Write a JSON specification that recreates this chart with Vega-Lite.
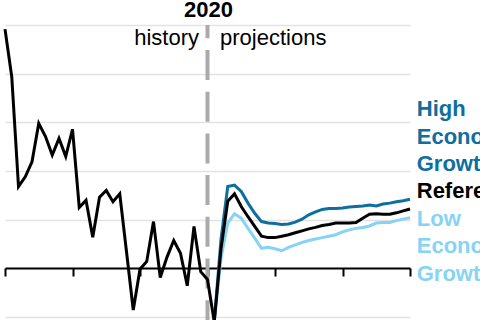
{
  "$schema": "https://vega.github.io/schema/vega-lite/v6.json",
  "autosize": {"type": "none"},
  "width": 405,
  "height": 295,
  "padding": {"left": 5, "top": 25, "right": 70, "bottom": 0},
  "background": "white",
  "view": {"stroke": null},
  "config": {"font": "Liberation Sans"},
  "datasets": {
    "lines": [
      {"year": 1990, "series": "History", "value": 4.92},
      {"year": 1991, "series": "History", "value": 3.94},
      {"year": 1992, "series": "History", "value": 1.68},
      {"year": 1993, "series": "History", "value": 1.88},
      {"year": 1994, "series": "History", "value": 2.19},
      {"year": 1995, "series": "History", "value": 2.98},
      {"year": 1996, "series": "History", "value": 2.71},
      {"year": 1997, "series": "History", "value": 2.33},
      {"year": 1998, "series": "History", "value": 2.67},
      {"year": 1999, "series": "History", "value": 2.30},
      {"year": 2000, "series": "History", "value": 2.86},
      {"year": 2001, "series": "History", "value": 1.25},
      {"year": 2002, "series": "History", "value": 1.40},
      {"year": 2003, "series": "History", "value": 0.64},
      {"year": 2004, "series": "History", "value": 1.46},
      {"year": 2005, "series": "History", "value": 1.60},
      {"year": 2006, "series": "History", "value": 1.37},
      {"year": 2007, "series": "History", "value": 1.53},
      {"year": 2008, "series": "History", "value": 0.34},
      {"year": 2009, "series": "History", "value": -0.86},
      {"year": 2010, "series": "History", "value": -0.02},
      {"year": 2011, "series": "History", "value": 0.14},
      {"year": 2012, "series": "History", "value": 0.96},
      {"year": 2013, "series": "History", "value": -0.19},
      {"year": 2014, "series": "History", "value": 0.23},
      {"year": 2015, "series": "History", "value": 0.57},
      {"year": 2016, "series": "History", "value": 0.31},
      {"year": 2017, "series": "History", "value": -0.36},
      {"year": 2018, "series": "History", "value": 0.86},
      {"year": 2019, "series": "History", "value": -0.07},
      {"year": 2020, "series": "History", "value": -0.23},
      {"year": 2021, "series": "History", "value": -1.1},

      {"year": 2021, "series": "Reference", "value": -1.1},
      {"year": 2022, "series": "Reference", "value": 0.40},
      {"year": 2023, "series": "Reference", "value": 1.38},
      {"year": 2024, "series": "Reference", "value": 1.53},
      {"year": 2025, "series": "Reference", "value": 1.27},
      {"year": 2026, "series": "Reference", "value": 1.06},
      {"year": 2027, "series": "Reference", "value": 0.86},
      {"year": 2028, "series": "Reference", "value": 0.66},
      {"year": 2029, "series": "Reference", "value": 0.63},
      {"year": 2030, "series": "Reference", "value": 0.63},
      {"year": 2031, "series": "Reference", "value": 0.66},
      {"year": 2032, "series": "Reference", "value": 0.69},
      {"year": 2033, "series": "Reference", "value": 0.73},
      {"year": 2034, "series": "Reference", "value": 0.77},
      {"year": 2035, "series": "Reference", "value": 0.81},
      {"year": 2036, "series": "Reference", "value": 0.84},
      {"year": 2037, "series": "Reference", "value": 0.88},
      {"year": 2038, "series": "Reference", "value": 0.90},
      {"year": 2039, "series": "Reference", "value": 0.93},
      {"year": 2040, "series": "Reference", "value": 0.93},
      {"year": 2041, "series": "Reference", "value": 0.93},
      {"year": 2042, "series": "Reference", "value": 0.94},
      {"year": 2043, "series": "Reference", "value": 1.03},
      {"year": 2044, "series": "Reference", "value": 1.11},
      {"year": 2045, "series": "Reference", "value": 1.12},
      {"year": 2046, "series": "Reference", "value": 1.11},
      {"year": 2047, "series": "Reference", "value": 1.11},
      {"year": 2048, "series": "Reference", "value": 1.14},
      {"year": 2049, "series": "Reference", "value": 1.18},
      {"year": 2050, "series": "Reference", "value": 1.22},

      {"year": 2021, "series": "High Economic Growth", "value": -1.1},
      {"year": 2022, "series": "High Economic Growth", "value": 0.60},
      {"year": 2023, "series": "High Economic Growth", "value": 1.68},
      {"year": 2024, "series": "High Economic Growth", "value": 1.71},
      {"year": 2025, "series": "High Economic Growth", "value": 1.58},
      {"year": 2026, "series": "High Economic Growth", "value": 1.34},
      {"year": 2027, "series": "High Economic Growth", "value": 1.13},
      {"year": 2028, "series": "High Economic Growth", "value": 0.96},
      {"year": 2029, "series": "High Economic Growth", "value": 0.93},
      {"year": 2030, "series": "High Economic Growth", "value": 0.92},
      {"year": 2031, "series": "High Economic Growth", "value": 0.90},
      {"year": 2032, "series": "High Economic Growth", "value": 0.91},
      {"year": 2033, "series": "High Economic Growth", "value": 0.95},
      {"year": 2034, "series": "High Economic Growth", "value": 1.01},
      {"year": 2035, "series": "High Economic Growth", "value": 1.10},
      {"year": 2036, "series": "High Economic Growth", "value": 1.16},
      {"year": 2037, "series": "High Economic Growth", "value": 1.21},
      {"year": 2038, "series": "High Economic Growth", "value": 1.23},
      {"year": 2039, "series": "High Economic Growth", "value": 1.23},
      {"year": 2040, "series": "High Economic Growth", "value": 1.24},
      {"year": 2041, "series": "High Economic Growth", "value": 1.26},
      {"year": 2042, "series": "High Economic Growth", "value": 1.27},
      {"year": 2043, "series": "High Economic Growth", "value": 1.28},
      {"year": 2044, "series": "High Economic Growth", "value": 1.30},
      {"year": 2045, "series": "High Economic Growth", "value": 1.28},
      {"year": 2046, "series": "High Economic Growth", "value": 1.32},
      {"year": 2047, "series": "High Economic Growth", "value": 1.34},
      {"year": 2048, "series": "High Economic Growth", "value": 1.37},
      {"year": 2049, "series": "High Economic Growth", "value": 1.39},
      {"year": 2050, "series": "High Economic Growth", "value": 1.42},

      {"year": 2021, "series": "Low Economic Growth", "value": -1.1},
      {"year": 2022, "series": "Low Economic Growth", "value": 0.20},
      {"year": 2023, "series": "Low Economic Growth", "value": 0.93},
      {"year": 2024, "series": "Low Economic Growth", "value": 1.12},
      {"year": 2025, "series": "Low Economic Growth", "value": 1.03},
      {"year": 2026, "series": "Low Economic Growth", "value": 0.82},
      {"year": 2027, "series": "Low Economic Growth", "value": 0.62},
      {"year": 2028, "series": "Low Economic Growth", "value": 0.41},
      {"year": 2029, "series": "Low Economic Growth", "value": 0.43},
      {"year": 2030, "series": "Low Economic Growth", "value": 0.40},
      {"year": 2031, "series": "Low Economic Growth", "value": 0.36},
      {"year": 2032, "series": "Low Economic Growth", "value": 0.43},
      {"year": 2033, "series": "Low Economic Growth", "value": 0.48},
      {"year": 2034, "series": "Low Economic Growth", "value": 0.53},
      {"year": 2035, "series": "Low Economic Growth", "value": 0.57},
      {"year": 2036, "series": "Low Economic Growth", "value": 0.60},
      {"year": 2037, "series": "Low Economic Growth", "value": 0.63},
      {"year": 2038, "series": "Low Economic Growth", "value": 0.66},
      {"year": 2039, "series": "Low Economic Growth", "value": 0.69},
      {"year": 2040, "series": "Low Economic Growth", "value": 0.75},
      {"year": 2041, "series": "Low Economic Growth", "value": 0.79},
      {"year": 2042, "series": "Low Economic Growth", "value": 0.82},
      {"year": 2043, "series": "Low Economic Growth", "value": 0.84},
      {"year": 2044, "series": "Low Economic Growth", "value": 0.87},
      {"year": 2045, "series": "Low Economic Growth", "value": 0.93},
      {"year": 2046, "series": "Low Economic Growth", "value": 0.94},
      {"year": 2047, "series": "Low Economic Growth", "value": 0.94},
      {"year": 2048, "series": "Low Economic Growth", "value": 0.98},
      {"year": 2049, "series": "Low Economic Growth", "value": 1.01},
      {"year": 2050, "series": "Low Economic Growth", "value": 1.04}
    ],
    "labels": [
      {"label": "2020", "role": "year", "year": 2020, "value": 5.17},
      {"label": "history", "role": "history", "year": 2020, "value": 4.59},
      {"label": "projections", "role": "projections", "year": 2020, "value": 4.59},
      {"label": ["High", "Economic", "Growth"], "role": "High Economic Growth", "year": 2051, "value": 3.13},
      {"label": ["Reference"], "role": "Reference", "year": 2051, "value": 1.44},
      {"label": ["Low", "Economic", "Growth"], "role": "Low Economic Growth", "year": 2051, "value": 0.87}
    ]
  },
  "layer": [
    {
      "data": {"name": "lines"},
      "transform": [{"filter": "datum.series === 'Low Economic Growth'"}],
      "mark": {"type": "line", "color": "#86d3f5", "strokeWidth": 3},
      "encoding": {
        "x": {
          "field": "year", "type": "quantitative",
          "scale": {"domain": [1990, 2050], "nice": false, "zero": false},
          "axis": {
            "values": [1990, 2000, 2010, 2020, 2030, 2040, 2050],
            "labels": false, "title": null, "grid": false,
            "offset": -52, "domainColor": "#000000", "domainWidth": 2,
            "tickColor": "#000000", "tickWidth": 2, "tickSize": 8
          }
        },
        "y": {
          "field": "value", "type": "quantitative",
          "scale": {"domain": [-1.065, 5.005], "nice": false, "zero": false},
          "axis": {
            "values": [-1, 0, 1, 2, 3, 4, 5],
            "labels": false, "ticks": false, "domain": false, "title": null,
            "grid": true, "gridColor": "#e2e2e2", "gridWidth": 1.5
          }
        }
      }
    },
    {
      "data": {"values": [{"year": 2020}]},
      "mark": {"type": "rule", "color": "#aaaaaa", "strokeWidth": 4, "strokeDash": [30, 11.7], "strokeDashOffset": 16.7},
      "encoding": {"x": {"field": "year", "type": "quantitative"}}
    },
    {
      "data": {"name": "lines"},
      "transform": [{"filter": "datum.series === 'High Economic Growth'"}],
      "mark": {"type": "line", "color": "#0e6e9e", "strokeWidth": 3},
      "encoding": {
        "x": {"field": "year", "type": "quantitative"},
        "y": {"field": "value", "type": "quantitative"}
      }
    },
    {
      "data": {"name": "lines"},
      "transform": [{"filter": "datum.series === 'History' || datum.series === 'Reference'"}],
      "mark": {"type": "line", "color": "#000000", "strokeWidth": 3},
      "encoding": {
        "x": {"field": "year", "type": "quantitative"},
        "y": {"field": "value", "type": "quantitative"},
        "detail": {"field": "series", "type": "nominal"}
      }
    },
    {
      "data": {"name": "labels"},
      "transform": [{"filter": "datum.role === 'year'"}],
      "mark": {"type": "text", "fontSize": 22, "fontWeight": "bold", "align": "center", "baseline": "alphabetic", "dx": 1, "color": "#000000"},
      "encoding": {
        "x": {"field": "year", "type": "quantitative"},
        "y": {"field": "value", "type": "quantitative"},
        "text": {"field": "label", "type": "nominal"}
      }
    },
    {
      "data": {"name": "labels"},
      "transform": [{"filter": "datum.role === 'history'"}],
      "mark": {"type": "text", "fontSize": 22, "align": "right", "baseline": "alphabetic", "dx": -8.5, "color": "#000000"},
      "encoding": {
        "x": {"field": "year", "type": "quantitative"},
        "y": {"field": "value", "type": "quantitative"},
        "text": {"field": "label", "type": "nominal"}
      }
    },
    {
      "data": {"name": "labels"},
      "transform": [{"filter": "datum.role === 'projections'"}],
      "mark": {"type": "text", "fontSize": 22, "align": "left", "baseline": "alphabetic", "dx": 12.5, "color": "#000000"},
      "encoding": {
        "x": {"field": "year", "type": "quantitative"},
        "y": {"field": "value", "type": "quantitative"},
        "text": {"field": "label", "type": "nominal"}
      }
    },
    {
      "data": {"name": "labels"},
      "transform": [{"filter": "datum.year === 2051"}],
      "mark": {"type": "text", "fontSize": 22, "fontWeight": "bold", "align": "left", "baseline": "alphabetic", "lineHeight": 27.5},
      "encoding": {
        "x": {"field": "year", "type": "quantitative"},
        "y": {"field": "value", "type": "quantitative"},
        "text": {"field": "label", "type": "nominal"},
        "color": {
          "field": "role", "type": "nominal", "legend": null,
          "scale": {"domain": ["High Economic Growth", "Reference", "Low Economic Growth"], "range": ["#0e6e9e", "#000000", "#86d3f5"]}
        }
      }
    }
  ]
}
